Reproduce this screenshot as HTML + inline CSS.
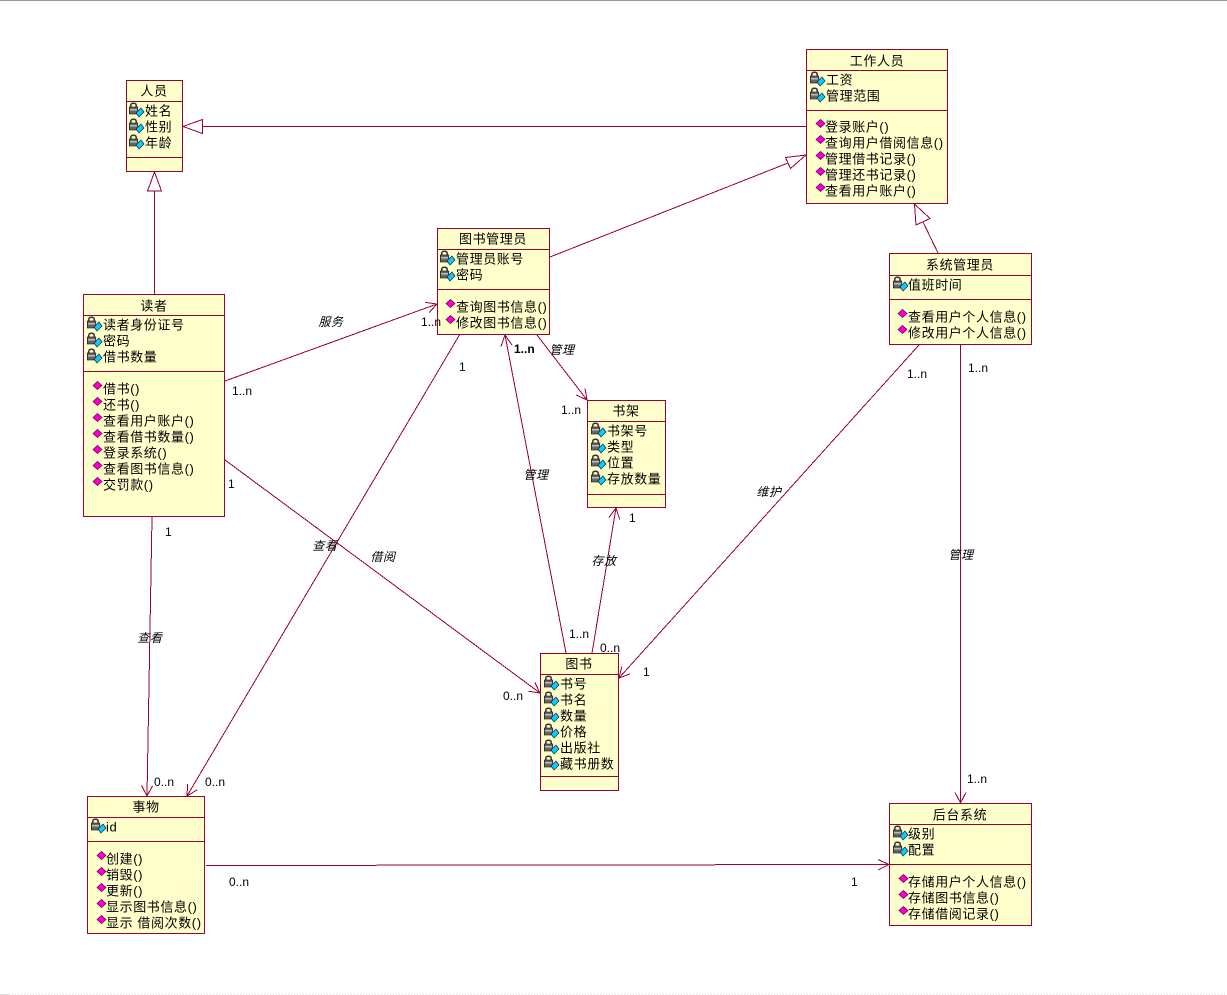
<!DOCTYPE html>
<html lang="zh"><head><meta charset="utf-8"><title>UML</title>
<style>
html,body{margin:0;padding:0;background:#fff}
svg{display:block}
text{font-family:"Liberation Sans","WenQuanYi Zen Hei","Noto Sans CJK SC",sans-serif;font-size:13px;fill:#000;letter-spacing:.6px;dominant-baseline:central}
.box{fill:#ffc;stroke:#990033;stroke-width:1;shape-rendering:crispEdges}
.l{stroke:#990033;stroke-width:1;fill:none;shape-rendering:crispEdges}
.t{text-anchor:middle}
.i{font-style:italic;font-size:12px;text-anchor:middle}
.m{font-size:12px;letter-spacing:0}
</style></head><body>
<svg width="1227" height="995" viewBox="0 0 1227 995" xmlns="http://www.w3.org/2000/svg">
<defs>
<g id="a"><path d="M1.800 4V2.500Q1.800 .3 4.500 .3T7.200 2.500V4" fill="none" stroke="#333" stroke-width="1.500"/><rect x=".3" y="4" width="8.500" height="7" fill="#666" stroke="#111" stroke-width=".6"/><rect x="1" y="6" width="7" height="1.500" fill="#bbb"/><path d="M7 10 12 5 15 9 10 14Z" fill="#10ccf5" stroke="#024" stroke-width=".7"/></g>
<path id="o" d="M0 3.500 4.500 -.5 9 3.500 4.500 7.500Z" fill="#f0c" stroke="#505" stroke-width=".7"/>
</defs>
<rect x="0" y="0" width="1227" height="1" fill="#999"/>
<line x1="0" y1="994.500" x2="10" y2="994.500" stroke="#ddd"/>
<line x1="12" y1="994.500" x2="1227" y2="994.500" stroke="#ddd" stroke-dasharray="1 2"/>

<!-- connectors -->
<g class="l">
<path class="l" d="M154.500 294V191M147.500 191H161.500L154.500 172Z"/>
<path class="l" d="M806 126.500H202.500M202.500 119.500V133.500L183 126.500Z"/>
<path class="l" d="M550 257 788 163M785.500 157.500 790.500 168.500 806 155Z"/>
<path class="l" d="M938 253 923 222M916 225 930 218.500 914.500 204Z"/>
<path class="l" d="M225 381 437 304M429 312.800 437 304 425.300 302.400"/>
<path class="l" d="M460 334 187 796M197.100 789.800 187 796 187.600 784.200"/>
<path class="l" d="M225 460 540 693M534.800 682.300 540 693 528.300 691.200"/>
<path class="l" d="M152 517 147 796M141.600 785.500 147 796 152.600 785.700"/>
<path class="l" d="M566 653 505 335M512 345 505 335 501 346.500"/>
<path class="l" d="M537 335 587 400M585 388.300 587 400 576.200 395"/>
<path class="l" d="M592 653 616 508M619.700 519.300 616 508 608.900 517.500"/>
<path class="l" d="M919 345 619 678M630.100 673.900 619 678 621.900 666.500"/>
<path class="l" d="M960.500 345V803M955 792.500 960.500 803 966 792.500"/>
<path class="l" d="M206 865.500 889 864.500M878 859.500 889 864.500 878 870"/>
</g>

<!-- 人员 -->
<rect class="box" x="126.500" y="80.500" width="56" height="91"/>
<path class="l" d="M126 101.500H183M126 157.500H183"/>
<text class="t" x="154" y="91">人员</text>
<use href="#a" x="129" y="103"/><use href="#a" x="129" y="119"/><use href="#a" x="129" y="135"/>
<text x="145" y="111">姓名</text><text x="145" y="127">性别</text><text x="145" y="143">年龄</text>

<!-- 工作人员 -->
<rect class="box" x="806.500" y="49.500" width="141" height="154"/>
<path class="l" d="M806 70.500H947M806 110.500H947"/>
<text class="t" x="877" y="61">工作人员</text>
<use href="#a" x="810" y="72"/><use href="#a" x="810" y="88"/>
<text x="826" y="80">工资</text><text x="826" y="96">管理范围</text>
<use href="#o" x="816" y="120"/><use href="#o" x="816" y="136"/><use href="#o" x="816" y="152"/><use href="#o" x="816" y="168"/><use href="#o" x="816" y="184"/>
<text x="825" y="127">登录账户()</text><text x="825" y="143">查询用户借阅信息()</text><text x="825" y="159">管理借书记录()</text><text x="825" y="175">管理还书记录()</text><text x="825" y="191">查看用户账户()</text>

<!-- 读者 -->
<rect class="box" x="83.500" y="294.500" width="141" height="222"/>
<path class="l" d="M83 315.500H224M83 371.500H224"/>
<text class="t" x="154" y="306">读者</text>
<use href="#a" x="87" y="317"/><use href="#a" x="87" y="333"/><use href="#a" x="87" y="349"/>
<text x="103" y="325">读者身份证号</text><text x="103" y="341">密码</text><text x="103" y="357">借书数量</text>
<use href="#o" x="93" y="382"/><use href="#o" x="93" y="398"/><use href="#o" x="93" y="414"/><use href="#o" x="93" y="430"/><use href="#o" x="93" y="446"/><use href="#o" x="93" y="462"/><use href="#o" x="93" y="478"/>
<text x="103" y="389">借书()</text><text x="103" y="405">还书()</text><text x="103" y="421">查看用户账户()</text><text x="103" y="437">查看借书数量()</text><text x="103" y="453">登录系统()</text><text x="103" y="469">查看图书信息()</text><text x="103" y="485">交罚款()</text>

<!-- 图书管理员 -->
<rect class="box" x="437.500" y="228.500" width="112" height="106"/>
<path class="l" d="M437 249.500H550M437 289.500H550"/>
<text class="t" x="493" y="239">图书管理员</text>
<use href="#a" x="440" y="251"/><use href="#a" x="440" y="267"/>
<text x="456" y="259">管理员账号</text><text x="456" y="275">密码</text>
<use href="#o" x="446" y="300"/><use href="#o" x="446" y="316"/>
<text x="456" y="307">查询图书信息()</text><text x="456" y="323">修改图书信息()</text>

<!-- 系统管理员 -->
<rect class="box" x="889.500" y="253.500" width="142" height="91"/>
<path class="l" d="M889 275.500H1031M889 299.500H1031"/>
<text class="t" x="960" y="265">系统管理员</text>
<use href="#a" x="893" y="277"/>
<text x="908" y="285">值班时间</text>
<use href="#o" x="898" y="310"/><use href="#o" x="898" y="326"/>
<text x="908" y="317">查看用户个人信息()</text><text x="908" y="333">修改用户个人信息()</text>

<!-- 书架 -->
<rect class="box" x="587.500" y="400.500" width="78" height="107"/>
<path class="l" d="M587 421.500H665M587 494.500H665"/>
<text class="t" x="626" y="411">书架</text>
<use href="#a" x="591" y="423"/><use href="#a" x="591" y="439"/><use href="#a" x="591" y="455"/><use href="#a" x="591" y="471"/>
<text x="607" y="431">书架号</text><text x="607" y="447">类型</text><text x="607" y="463">位置</text><text x="607" y="479">存放数量</text>

<!-- 图书 -->
<rect class="box" x="540.500" y="653.500" width="78" height="137"/>
<path class="l" d="M540 674.500H618M540 776.500H618"/>
<text class="t" x="579" y="664">图书</text>
<use href="#a" x="544" y="676"/><use href="#a" x="544" y="692"/><use href="#a" x="544" y="708"/><use href="#a" x="544" y="724"/><use href="#a" x="544" y="740"/><use href="#a" x="544" y="756"/>
<text x="560" y="684">书号</text><text x="560" y="700">书名</text><text x="560" y="716">数量</text><text x="560" y="732">价格</text><text x="560" y="748">出版社</text><text x="560" y="764">藏书册数</text>

<!-- 事物 -->
<rect class="box" x="87.500" y="796.500" width="117" height="137"/>
<path class="l" d="M87 817.500H204M87 841.500H204"/>
<text class="t" x="146" y="807">事物</text>
<use href="#a" x="91" y="819"/>
<text x="106" y="827">id</text>
<use href="#o" x="97" y="852"/><use href="#o" x="97" y="868"/><use href="#o" x="97" y="884"/><use href="#o" x="97" y="900"/><use href="#o" x="97" y="916"/>
<text x="106" y="859">创建()</text><text x="106" y="875">销毁()</text><text x="106" y="891">更新()</text><text x="106" y="907">显示图书信息()</text><text x="106" y="923">显示 借阅次数()</text>

<!-- 后台系统 -->
<rect class="box" x="889.500" y="803.500" width="142" height="122"/>
<path class="l" d="M889 824.500H1031M889 864.500H1031"/>
<text class="t" x="960" y="815">后台系统</text>
<use href="#a" x="893" y="826"/><use href="#a" x="893" y="842"/>
<text x="908" y="834">级别</text><text x="908" y="850">配置</text>
<use href="#o" x="899" y="875"/><use href="#o" x="899" y="891"/><use href="#o" x="899" y="907"/>
<text x="908" y="882">存储用户个人信息()</text><text x="908" y="898">存储图书信息()</text><text x="908" y="914">存储借阅记录()</text>

<!-- association labels -->
<text class="i" x="331" y="322">服务</text>
<text class="i" x="562" y="350">管理</text>
<text class="i" x="536" y="475">管理</text>
<text class="i" x="325" y="546">查看</text>
<text class="i" x="383" y="557">借阅</text>
<text class="i" x="150" y="638">查看</text>
<text class="i" x="604" y="561">存放</text>
<text class="i" x="769" y="492">维护</text>
<text class="i" x="961" y="555">管理</text>

<!-- multiplicities -->
<text class="m" x="232" y="391">1..n</text>
<text class="m" x="421" y="322">1..n</text>
<text class="m" x="459" y="367">1</text>
<text class="m" x="514" y="349" style="font-weight:bold">1..n</text>
<text class="m" x="561" y="410">1..n</text>
<text class="m" x="629" y="518">1</text>
<text class="m" x="228" y="484">1</text>
<text class="m" x="165" y="532">1</text>
<text class="m" x="154" y="782">0..n</text>
<text class="m" x="205" y="782">0..n</text>
<text class="m" x="503" y="696">0..n</text>
<text class="m" x="569" y="634">1..n</text>
<text class="m" x="600" y="648">0..n</text>
<text class="m" x="643" y="672">1</text>
<text class="m" x="907" y="374">1..n</text>
<text class="m" x="968" y="368">1..n</text>
<text class="m" x="967" y="779">1..n</text>
<text class="m" x="229" y="882">0..n</text>
<text class="m" x="851" y="882">1</text>
</svg>
</body></html>
